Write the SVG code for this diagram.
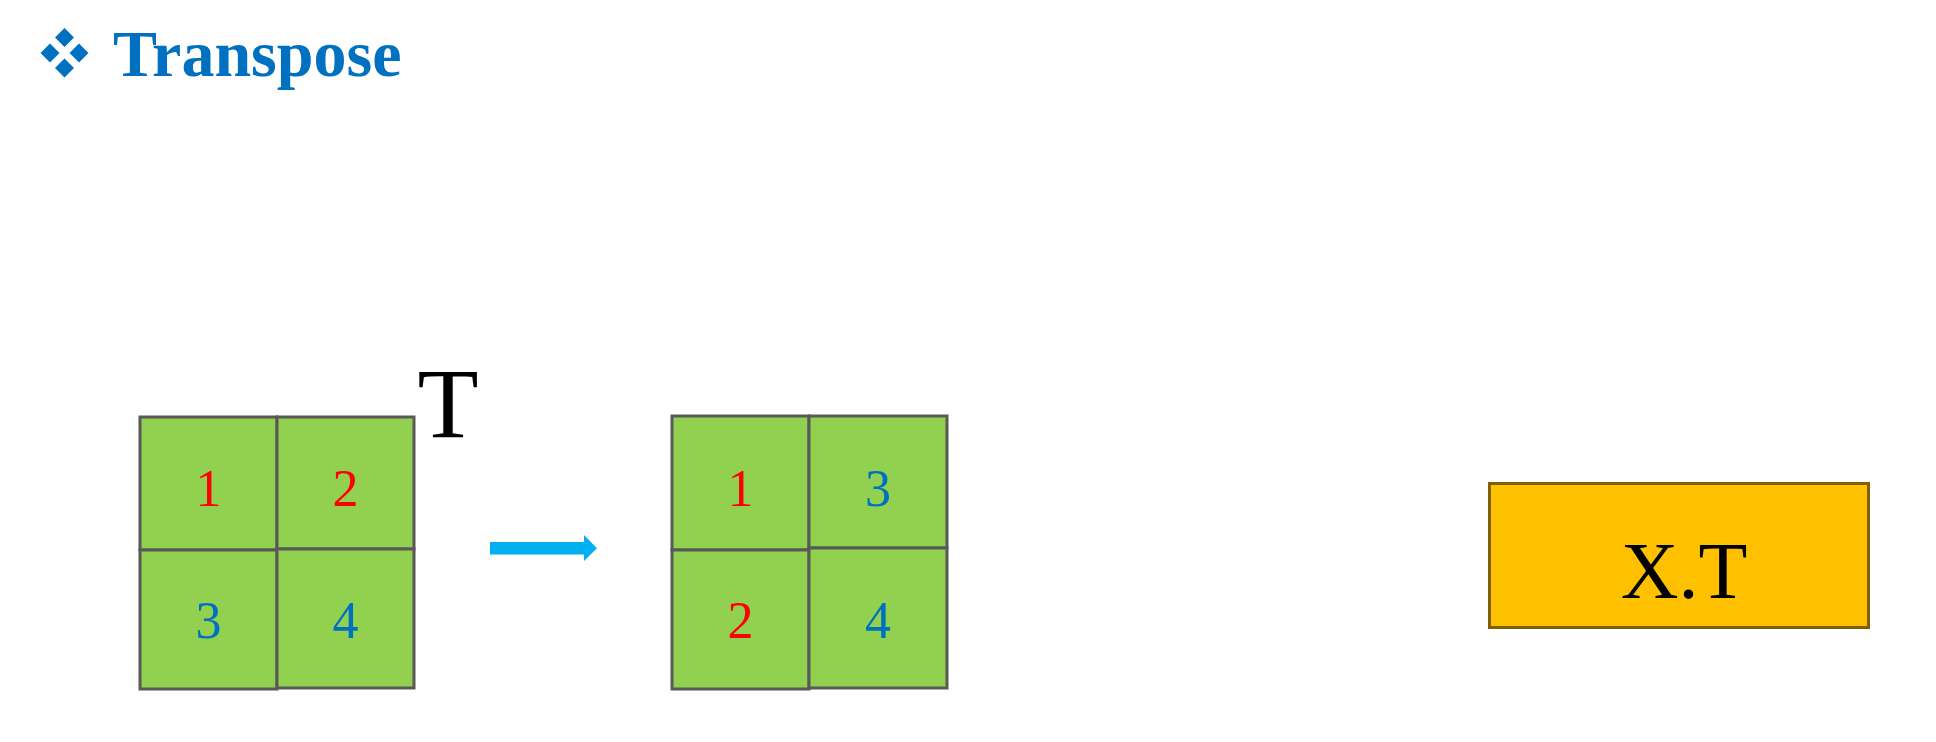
<svg xmlns="http://www.w3.org/2000/svg" width="1936" height="742" viewBox="0 0 1936 742">
<style>
.cell{fill:#92D050;stroke:#595959;stroke-width:3}
.num{font-family:"Liberation Serif","Times New Roman",serif;font-size:52px;text-anchor:middle}
.red{fill:#FF0000}
.blue{fill:#0070C0}
.title{font-family:"Liberation Serif","Times New Roman",serif;font-size:66px;font-weight:bold;fill:#0070C0}
</style>
<rect width="1936" height="742" fill="#FFFFFF"/>
<g id="title">
<polygon points="64.5,28 74,37.5 64.5,47 55,37.5" fill="#0070C0"/>
<polygon points="50,43.5 59.5,53 50,62.5 40.5,53" fill="#0070C0"/>
<polygon points="79,43.5 88.5,53 79,62.5 69.5,53" fill="#0070C0"/>
<polygon points="64.5,58.5 74,68 64.5,77.5 55,68" fill="#0070C0"/>
<text class="title" x="113" y="76">Transpose</text>
</g>
<g id="matrix-x">
<rect class="cell" x="140" y="417" width="137" height="133"/>
<rect class="cell" x="277" y="417" width="137" height="132"/>
<rect class="cell" x="140" y="550" width="137" height="139"/>
<rect class="cell" x="277" y="549" width="137" height="139"/>
<text class="num red" x="208.5" y="506">1</text>
<text class="num red" x="345.5" y="506">2</text>
<text class="num blue" x="208.5" y="638">3</text>
<text class="num blue" x="345.5" y="638">4</text>
</g>
<g id="label-t">
<text x="448" y="437" font-family="Liberation Serif,'Times New Roman',serif" font-size="100" text-anchor="middle" fill="#000000">T</text>
</g>
<g id="connectors">
<polygon points="490,542 584,542 584,535 597,548.3 584,561 584,554.5 490,554.5" fill="#00B0F0"/>
</g>
<g id="matrix-xt">
<rect class="cell" x="672" y="416" width="137" height="134"/>
<rect class="cell" x="809" y="416" width="138" height="132"/>
<rect class="cell" x="672" y="550" width="137" height="139"/>
<rect class="cell" x="809" y="548" width="138" height="140"/>
<text class="num red" x="740.5" y="506">1</text>
<text class="num blue" x="878" y="506">3</text>
<text class="num red" x="740.5" y="638">2</text>
<text class="num blue" x="878" y="638">4</text>
</g>
<g id="code-box">
<rect x="1489.5" y="483.5" width="379" height="144" fill="#FFC000" stroke="#7F6000" stroke-width="3"/>
<text x="1684" y="598" font-family="Liberation Serif,'Times New Roman',serif" font-size="80" text-anchor="middle" fill="#000000">X.T</text>
</g>
</svg>
